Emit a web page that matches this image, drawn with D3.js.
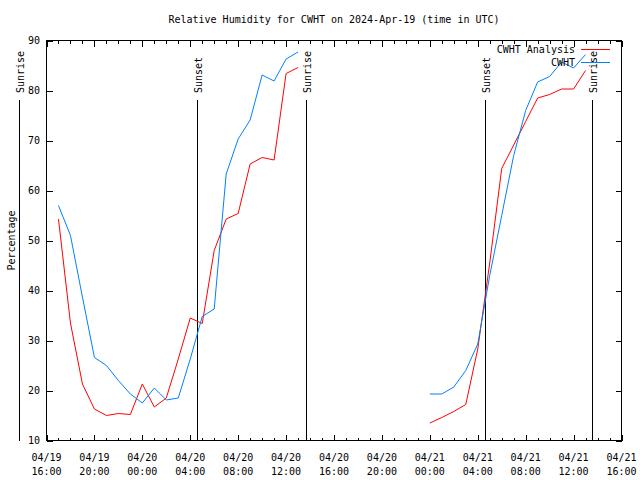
<!DOCTYPE html>
<html><head><meta charset="utf-8">
<script src="https://cdn.jsdelivr.net/npm/d3@7"></script>
<style>
body{margin:0;background:#fff}
svg{display:block}
text{font-family:"DejaVu Sans Mono","Liberation Mono",monospace;font-size:10px;fill:#000}
</style>
</head><body><svg id="c" width="640" height="480"></svg>
<script>
// ---- data ----
const title = "Relative Humidity for CWHT on 2024-Apr-19 (time in UTC)";
const yLabel = "Percentage";
const seriesNames = ["CWHT Analysis", "CWHT"];
const seriesColors = ["#ff0000", "#0080ff"];

const times1 = ["2024-04-19T17:00Z","2024-04-19T18:00Z","2024-04-19T19:00Z","2024-04-19T20:00Z","2024-04-19T21:00Z",
  "2024-04-19T22:00Z","2024-04-19T23:00Z","2024-04-20T00:00Z","2024-04-20T01:00Z","2024-04-20T02:00Z","2024-04-20T03:00Z",
  "2024-04-20T04:00Z","2024-04-20T05:00Z","2024-04-20T06:00Z","2024-04-20T07:00Z","2024-04-20T08:00Z","2024-04-20T09:00Z",
  "2024-04-20T10:00Z","2024-04-20T11:00Z","2024-04-20T12:00Z","2024-04-20T13:00Z"];
const analysis1 = [54.3, 33.5, 21.3, 16.3, 15.0, 15.4, 15.2, 21.3, 16.7, 18.5, 26.3, 34.5, 33.4, 48.0, 54.3, 55.4, 65.3, 66.6, 66.1, 83.4, 84.6];
const obs1 = [57.0, 51.0, 38.7, 26.6, 25.0, 22.0, 19.3, 17.5, 20.5, 18.1, 18.5, 26.3, 34.8, 36.3, 63.3, 70.3, 74.1, 83.1, 81.9, 86.3, 87.7];

const times2 = ["2024-04-21T00:00Z","2024-04-21T01:00Z","2024-04-21T02:00Z","2024-04-21T03:00Z","2024-04-21T04:00Z",
  "2024-04-21T05:00Z","2024-04-21T06:00Z","2024-04-21T07:00Z","2024-04-21T08:00Z","2024-04-21T09:00Z","2024-04-21T10:00Z",
  "2024-04-21T11:00Z","2024-04-21T12:00Z","2024-04-21T13:00Z"];
const analysis2 = [13.5, 14.6, 15.8, 17.2, 28.3, 45.5, 64.4, 69.1, 73.8, 78.5, 79.2, 80.3, 80.3, 84.0];
const obs2 = [19.3, 19.3, 20.7, 24.0, 29.3, 43.0, 55.0, 67.0, 76.0, 81.7, 82.8, 85.7, 84.5, 87.2];

const sunLabels = ["Sunrise", "Sunset", "Sunrise", "Sunset", "Sunrise"];
const sunTimes = ["2024-04-19T13:42Z","2024-04-20T04:34Z","2024-04-20T13:40Z","2024-04-21T04:36Z","2024-04-21T13:32Z"];

const xDomain = ["2024-04-19T16:00Z", "2024-04-21T16:00Z"];
const yDomain = [10, 90];
const yTicks = [10, 20, 30, 40, 50, 60, 70, 80, 90];

// ---- layout ----
const L = 46.5, R = 621.5, T = 40.5, B = 440.5;
const svg = d3.select("#c");
const x = d3.scaleUtc().domain(xDomain.map(d => new Date(d))).range([L, R]);
const y = d3.scaleLinear().domain(yDomain).range([B, T]);

// title
svg.append("text").attr("x", (L + R) / 2).attr("y", 23).attr("text-anchor", "middle").text(title);

// y label
svg.append("text").attr("transform", `translate(15,${(T + B) / 2}) rotate(-90)`)
  .attr("text-anchor", "middle").text(yLabel);

// axes ticks
const g = svg.append("g").attr("shape-rendering", "crispEdges");
const majorX = d3.utcHour.every(4).range(x.domain()[0], new Date(+x.domain()[1] + 1));
const minorX = d3.utcHour.every(1).range(x.domain()[0], new Date(+x.domain()[1] + 1));

g.append("g").attr("transform", `translate(0,${B})`)
  .call(d3.axisBottom(x).tickValues(minorX).tickSize(-3).tickFormat("").tickSizeOuter(0))
  .call(a => a.select(".domain").remove());
g.append("g").attr("transform", `translate(0,${B})`)
  .call(d3.axisBottom(x).tickValues(majorX).tickSize(-6).tickFormat("").tickSizeOuter(0))
  .call(a => a.select(".domain").remove());
g.append("g").attr("transform", `translate(0,${T})`)
  .call(d3.axisTop(x).tickValues(minorX).tickSize(-3).tickFormat("").tickSizeOuter(0))
  .call(a => a.select(".domain").remove());
g.append("g").attr("transform", `translate(0,${T})`)
  .call(d3.axisTop(x).tickValues(majorX).tickSize(-6).tickFormat("").tickSizeOuter(0))
  .call(a => a.select(".domain").remove());
g.append("g").attr("transform", `translate(${L},0)`)
  .call(d3.axisLeft(y).tickValues(yTicks).tickSize(-6).tickFormat("").tickSizeOuter(0))
  .call(a => a.select(".domain").remove());
g.append("g").attr("transform", `translate(${R},0)`)
  .call(d3.axisRight(y).tickValues(yTicks).tickSize(-6).tickFormat("").tickSizeOuter(0))
  .call(a => a.select(".domain").remove());
g.selectAll(".tick line").attr("stroke", "#000");

// y tick labels
svg.append("g").selectAll("text").data(yTicks).join("text")
  .attr("x", 40).attr("y", d => y(d) + 3.5).attr("text-anchor", "end").text(d => d);

// x tick labels
const fDate = d3.utcFormat("%m/%d"), fTime = d3.utcFormat("%H:%M");
const xl = svg.append("g").selectAll("g").data(majorX).join("g");
xl.append("text").attr("x", d => x(d)).attr("y", 461).attr("text-anchor", "middle").text(d => fDate(d));
xl.append("text").attr("x", d => x(d)).attr("y", 475).attr("text-anchor", "middle").text(d => fTime(d));

// sunrise / sunset lines
const sun = svg.append("g");
sunTimes.forEach((t, i) => {
  const sx = Math.round(x(new Date(t))) + 0.5;
  sun.append("line").attr("x1", sx).attr("x2", sx).attr("y1", 100).attr("y2", B)
    .attr("stroke", "#000").attr("stroke-width", 1).attr("shape-rendering", "crispEdges");
  sun.append("text").attr("transform", `translate(${sx + 4},93) rotate(-90)`)
    .attr("text-anchor", "start").text(sunLabels[i]);
});

// border
svg.append("rect").attr("x", L).attr("y", T).attr("width", R - L).attr("height", B - T)
  .attr("fill", "none").attr("stroke", "#000").attr("shape-rendering", "crispEdges");

// series
const line = d3.line().x(d => x(d[0])).y(d => y(d[1]));
const segs = [
  [[times1, analysis1], [times2, analysis2]],
  [[times1, obs1], [times2, obs2]]
];
segs.forEach((s, si) => {
  s.forEach(([ts, vs]) => {
    const pts = ts.map((t, i) => [new Date(t), vs[i]]);
    svg.append("path").attr("d", line(pts)).attr("fill", "none")
      .attr("stroke", seriesColors[si]).attr("stroke-width", 1);
  });
});

// legend
seriesNames.forEach((n, i) => {
  const ly = 49 + i * 13;
  svg.append("text").attr("x", 575).attr("y", ly + 3.5).attr("text-anchor", "end").text(n);
  svg.append("line").attr("x1", 581).attr("x2", 610).attr("y1", ly + 0.5).attr("y2", ly + 0.5)
    .attr("stroke", seriesColors[i]).attr("shape-rendering", "crispEdges");
});
</script>
</body></html>
